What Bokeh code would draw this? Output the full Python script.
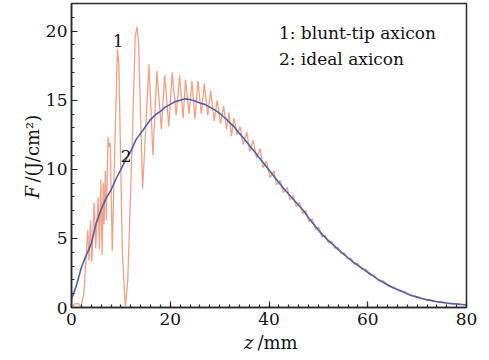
import numpy as np
from bokeh.plotting import figure
from bokeh.models import FixedTicker, Label
from bokeh.embed import file_html
from bokeh.resources import INLINE

# ---- data ----
z_ideal = list(range(0, 81))
F_ideal = [0.6, 1.6, 2.9, 3.8, 4.6, 6.1, 7.1, 7.9, 8.5, 9.3,
           10.0, 10.7, 11.3, 12.1, 12.6, 13.1, 13.6, 13.95, 14.2, 14.5,
           14.7, 14.9, 15.0, 15.1, 15.05, 14.95, 14.8, 14.7, 14.5, 14.3,
           14.05, 13.75, 13.4, 13.05, 12.6, 12.2, 11.75, 11.3, 10.85, 10.4,
           9.95, 9.5, 9.05, 8.6, 8.2, 7.8, 7.4, 7.0, 6.5, 6.05,
           5.6, 5.2, 4.85, 4.55, 4.2, 3.9, 3.6, 3.3, 3.05, 2.8,
           2.55, 2.3, 2.05, 1.85, 1.65, 1.45, 1.3, 1.15, 1.0, 0.85,
           0.75, 0.65, 0.55, 0.5, 0.42, 0.37, 0.32, 0.28, 0.25, 0.22, 0.2]

z_blunt = [0, 0.6, 1.3, 1.9, 2.5,
           3.3, 3.55, 3.85, 4.1, 4.6, 4.9, 5.4, 5.65, 5.95, 6.2,
           6.45, 6.6, 6.85, 7.05, 7.4, 7.65, 7.85, 8.25, 8.8, 9.3,
           9.6, 10.3, 10.9, 11.4, 12.3, 12.9, 13.3, 13.6, 14.4,
           15.7, 16.5, 17.3, 18.2, 18.9, 19.7, 20.4, 21.2, 21.9, 22.6,
           23.1, 23.8, 24.4, 25.0, 25.6, 26.3, 26.9, 27.6, 28.2, 28.9,
           29.5, 30.2, 30.8, 31.4, 31.9, 32.4, 32.9, 33.6, 34.1, 34.8,
           35.5, 36.1, 36.8, 37.5, 38.2, 38.8, 39.5, 40.2, 41.0, 41.5,
           42.3, 42.9, 43.7, 44.2, 44.9,
           45.5, 46.2, 46.8, 47.5, 48.1, 48.8, 49.4, 50.1, 50.7, 51.4,
           52.0, 52.7, 53.3, 54.0, 54.6, 55.3, 55.9, 56.6, 57.3, 58.0,
           58.8, 59.6, 60.4, 61.3, 62.2, 63.2, 64.2, 65.2, 66.3, 67.4,
           68.5, 69.7, 70.9, 72.1, 73.4, 74.8, 76.3, 77.9, 80.0]
F_blunt = [0, 0.25, 0.3, 0.05, 1.0,
           5.6, 3.4, 6.3, 3.3, 7.6, 4.3, 8.0, 4.2, 9.2, 3.8,
           9.0, 6.0, 9.9, 6.3, 12.3, 11.6, 11.9, 4.1, 12.0, 18.7,
           17.5, 4.0, 0.0, 2.0, 12.0, 19.6, 20.3, 19.0, 8.6,
           17.6, 11.0, 17.1, 12.9, 16.8, 13.1, 17.0, 13.9, 16.8, 13.7,
           16.5, 14.0, 16.4, 13.6, 16.4, 14.0, 16.2, 13.9, 15.7, 13.5,
           15.0, 13.3, 14.6, 12.9, 14.1, 12.4, 13.7, 12.5, 13.1, 11.8,
           12.7, 11.3, 12.1, 10.8, 11.5, 10.1, 10.6, 9.4, 9.9, 8.9,
           9.2, 8.3, 8.7, 7.8, 8.1,
           7.3, 7.6, 6.8, 7.0, 6.2, 6.4, 5.65, 5.8, 5.1, 5.25,
           4.68, 4.8, 4.3, 4.35, 3.9, 3.95, 3.52, 3.58, 3.12, 3.17,
           2.75, 2.78, 2.36, 2.35, 1.93, 1.92, 1.55, 1.5, 1.2, 1.15,
           0.88, 0.82, 0.62, 0.59, 0.44, 0.41, 0.28, 0.28, 0.2]

x_major = [0, 20, 40, 60, 80]
y_major = [0, 5, 10, 15, 20]
legend_lines = ["1: blunt-tip axicon", "2: ideal axicon"]

FONT = "DejaVu Serif"
DARK = "#2b2b2b"
TXT = "#111111"

p = figure(width=481, height=352, x_range=(0, 80), y_range=(0, 22),
           output_backend="svg", toolbar_location=None,
           min_border_left=68, min_border_right=15,
           min_border_top=3, min_border_bottom=45,
           background_fill_color="white", border_fill_color="white")

p.outline_line_color = DARK
p.outline_line_width = 1.5
p.grid.visible = False

p.xaxis.ticker = FixedTicker(ticks=x_major, minor_ticks=list(range(0, 81, 2)))
p.yaxis.ticker = FixedTicker(ticks=y_major, minor_ticks=list(range(0, 23, 1)))
for ax in (p.xaxis[0], p.yaxis[0]):
    ax.axis_line_color = DARK
    ax.axis_line_width = 1.5
    ax.major_tick_in = 6
    ax.major_tick_out = 0
    ax.minor_tick_in = 3
    ax.minor_tick_out = 0
    ax.major_tick_line_color = DARK
    ax.minor_tick_line_color = DARK
    ax.major_tick_line_width = 1.2
    ax.minor_tick_line_width = 1.2
    ax.major_label_text_font = FONT
    ax.major_label_text_font_size = "17px"
    ax.major_label_text_color = TXT
p.xaxis.major_label_standoff = 5
p.yaxis.major_label_standoff = 4

p.line(z_blunt, F_blunt, line_color="#F49A7C", line_width=1.3, line_alpha=0.95)
p.line(z_ideal, F_ideal, line_color="#4A60B2", line_width=1.6)


def mk(x, y, t, align="left", baseline="middle", style="normal",
       size="17px", angle=0.0):
    return Label(x=x, y=y, text=t, text_font=FONT, text_font_size=size,
                 text_font_style=style, text_align=align,
                 text_baseline=baseline, text_color=TXT, angle=angle)


# in-frame texts
p.add_layout(mk(9.46, 19.3, "1", align="center"))
p.add_layout(mk(11.07, 10.97, "2", align="center"))
p.add_layout(mk(42.0, 19.86, legend_lines[0]))
p.add_layout(mk(42.0, 18.0, legend_lines[1]))

# axis titles, placed in side panels so they are not clipped to the frame
# x: italic z + "/mm"
p.add_layout(mk(36.85, -2.55, "z", align="right", baseline="alphabetic",
                style="italic", size="18px"), "right")
p.add_layout(mk(37.65, -2.55, "/mm", align="left", baseline="alphabetic",
                size="18px"), "below")
# y: italic F + "/(J/cm²)"
p.add_layout(mk(-7.9, 8.8, "F", align="right", style="italic", size="18px",
                angle=np.pi / 2), "left")
p.add_layout(mk(-7.9, 9.05, "/(J/cm²)", align="left", size="18px",
                angle=np.pi / 2), "left")

open("out.html", "w").write(file_html(p, INLINE))
